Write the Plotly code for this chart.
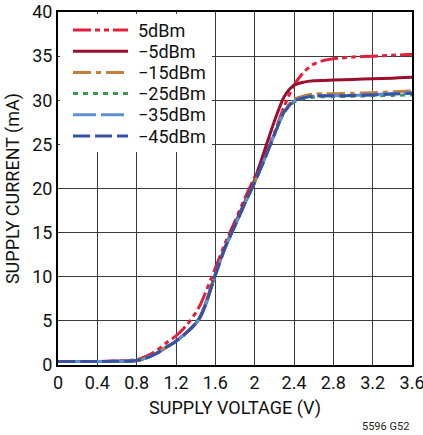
import plotly.graph_objects as go

# Supply voltage (V)
voltage = [0, 0.4, 0.8, 0.9, 1.0, 1.1, 1.2, 1.3, 1.4, 1.45, 1.5, 1.55, 1.6, 1.7, 1.8, 1.9, 2.0,
           2.1, 2.2, 2.3, 2.4, 2.5, 2.6, 2.7, 2.8, 3.0, 3.2, 3.4, 3.6]

# Supply current (mA) per input power level
i_p5 = [0.4, 0.4, 0.6, 1.0, 1.6, 2.5, 3.3, 4.4, 5.9, 6.9, 8.2, 9.6, 11.0, 13.8, 16.3, 18.9, 21.3,
        23.7, 26.3, 29.3, 31.7, 33.2, 34.1, 34.5, 34.7, 34.9, 35.0, 35.1, 35.2]
i_m5 = [0.4, 0.4, 0.5, 0.8, 1.3, 2.0, 2.7, 3.6, 4.7, 5.6, 6.9, 8.6, 10.3, 13.4, 16.0, 18.5, 21.0,
        24.3, 27.6, 30.4, 31.7, 32.05, 32.2, 32.25, 32.3, 32.35, 32.45, 32.5, 32.6]
i_m15 = [0.4, 0.4, 0.5, 0.8, 1.3, 2.0, 2.7, 3.6, 4.7, 5.5, 6.8, 8.5, 10.2, 13.3, 15.8, 18.3, 20.7,
         23.3, 26.1, 28.8, 30.1, 30.5, 30.7, 30.75, 30.75, 30.8, 30.85, 30.95, 31.05]
i_m25 = [0.4, 0.4, 0.5, 0.8, 1.3, 2.0, 2.7, 3.6, 4.7, 5.5, 6.8, 8.5, 10.2, 13.3, 15.8, 18.3, 20.7,
         23.3, 26.1, 28.6, 29.8, 30.2, 30.35, 30.4, 30.4, 30.45, 30.5, 30.55, 30.6]
i_m35 = [0.4, 0.4, 0.5, 0.8, 1.3, 2.0, 2.7, 3.6, 4.7, 5.5, 6.8, 8.5, 10.2, 13.3, 15.8, 18.3, 20.7,
         23.3, 26.1, 28.7, 29.9, 30.3, 30.45, 30.5, 30.5, 30.55, 30.65, 30.75, 30.85]
i_m45 = [0.4, 0.4, 0.5, 0.8, 1.3, 2.0, 2.7, 3.6, 4.7, 5.5, 6.8, 8.5, 10.2, 13.3, 15.8, 18.3, 20.7,
         23.3, 26.1, 28.7, 29.9, 30.3, 30.45, 30.5, 30.5, 30.55, 30.6, 30.7, 30.8]

labels = ["5dBm", "\u22125dBm", "\u221215dBm", "\u221225dBm", "\u221235dBm", "\u221245dBm"]
series = [i_p5, i_m5, i_m15, i_m25, i_m35, i_m45]
colors = ["#e41f3a", "#9a0f2e", "#c47f3e", "#3a9a4e", "#5e8fd2", "#3852a3"]
dashes = ["18px,4px,5px,4px,5px,4px", "solid", "18px,5px,5px,5px", "5px,5px", "23px,5px", "17px,5px"]

x_ticks = [0, 0.4, 0.8, 1.2, 1.6, 2.0, 2.4, 2.8, 3.2, 3.6]
y_ticks = [0, 5, 10, 15, 20, 25, 30, 35, 40]

FONT = "Roboto, Liberation Sans, Arial, sans-serif"

fig = go.Figure()
for lab, ys, col, d in zip(labels, series, colors, dashes):
    fig.add_trace(go.Scatter(x=voltage, y=ys, mode="lines", name=lab,
                             line=dict(color=col, width=3, dash=d, shape="spline", smoothing=0.7),
                             showlegend=False))

L, R, T, B = 58, 11, 12, 70
W, H = 423, 435
pw, ph = W - L - R, H - T - B

def px2paper(px, py):
    return (px - L) / pw, (H - B - py) / ph

shapes = []
x0, y0 = px2paper(60, 152)
x1, y1 = px2paper(212, 14)
shapes.append(dict(type="rect", xref="paper", yref="paper", x0=x0, y0=y0, x1=x1, y1=y1,
                   fillcolor="white", line=dict(width=0), layer="above"))
annotations = []
for i, (lab, col, d) in enumerate(zip(labels, colors, dashes)):
    py = 30 + 21.2 * i
    ax0, ay = px2paper(73, py)
    ax1, _ = px2paper(128, py)
    shapes.append(dict(type="line", xref="paper", yref="paper", x0=ax0, x1=ax1, y0=ay, y1=ay,
                       line=dict(color=col, width=3, dash=d), layer="above"))
    tx, _ = px2paper(136, py)
    annotations.append(dict(x=tx, y=ay, xref="paper", yref="paper", text=lab, showarrow=False,
                            xanchor="left", yanchor="middle",
                            font=dict(family=FONT, size=18, color="#111")))

ax_, ay_ = px2paper(411, 426)
annotations.append(dict(x=ax_, y=ay_, xref="paper", yref="paper", text="5596 G52",
                        showarrow=False, xanchor="right", yanchor="middle",
                        font=dict(family=FONT, size=11, color="#222")))

fig.update_layout(
    width=W, height=H,
    margin=dict(l=L, r=R, t=T, b=B, autoexpand=False),
    paper_bgcolor="white", plot_bgcolor="white",
    font=dict(family=FONT, size=18, color="#111"),
    shapes=shapes, annotations=annotations,
    xaxis=dict(range=[0, 3.6], tickvals=x_ticks, ticktext=[("%g" % v) for v in x_ticks],
               showgrid=True, gridcolor="#3a3a3a", gridwidth=1.3, automargin=False,
               showline=True, linecolor="black", linewidth=2, mirror=True,
               zeroline=False, ticks="", tickfont=dict(size=18), ticklabeloverflow="allow",
               title=dict(text="SUPPLY VOLTAGE (V)", font=dict(size=18), standoff=10)),
    yaxis=dict(range=[0, 40], tickvals=y_ticks, automargin=False,
               showgrid=True, gridcolor="#3a3a3a", gridwidth=1.3,
               showline=True, linecolor="black", linewidth=2, mirror=True,
               zeroline=False, ticks="", tickfont=dict(size=18), ticklabeloverflow="allow",
               title=dict(text="SUPPLY CURRENT (mA)", font=dict(size=18), standoff=8)),
)

fig.write_html("out.html", config={"displayModeBar": False},
               post_script="document.body.style.margin='0';")
